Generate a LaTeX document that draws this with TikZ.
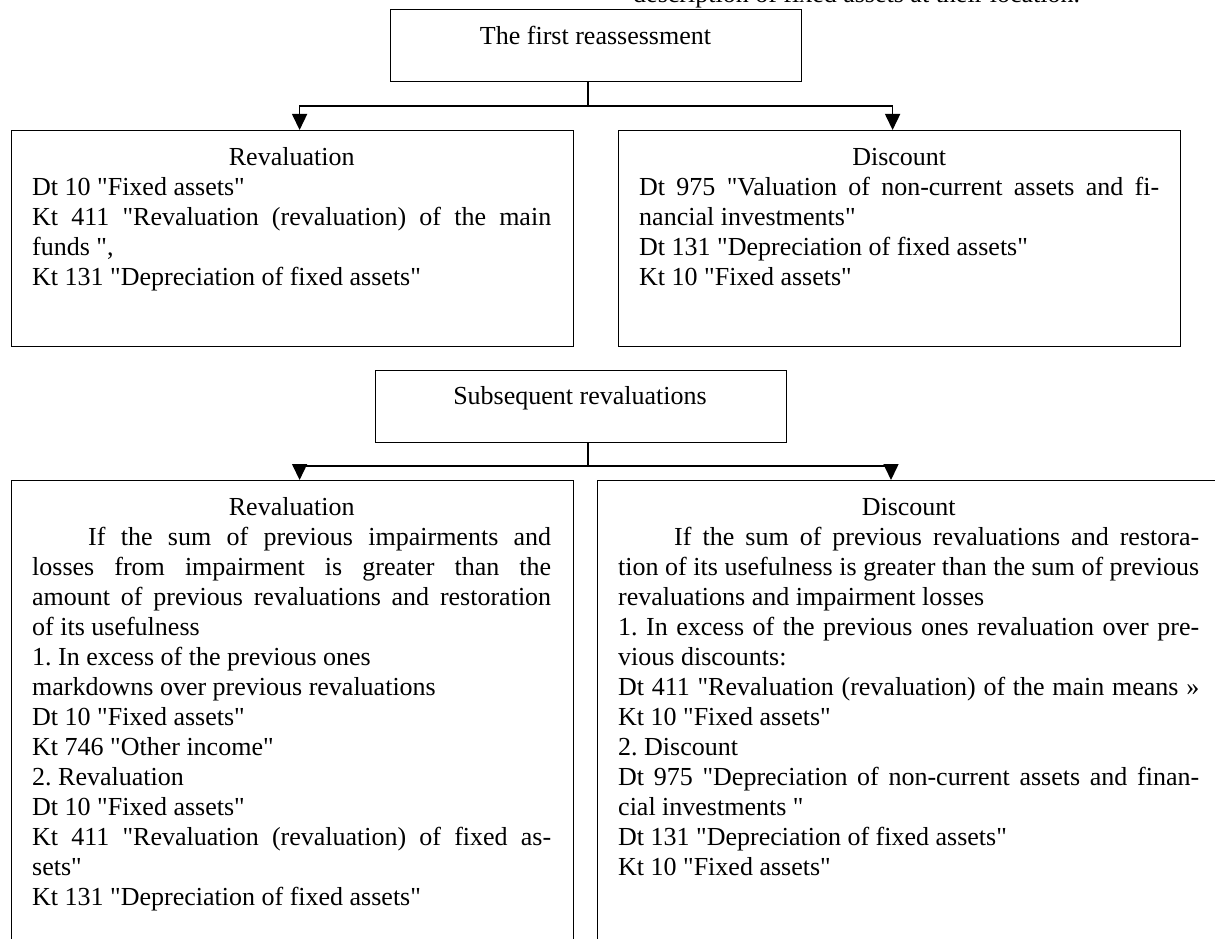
\documentclass[tikz,border=0pt]{standalone}
\usepackage{fontspec}
\setmainfont{Liberation Serif}[Ligatures=TeXOff]
\usetikzlibrary{arrows.meta}
\frenchspacing
\newcommand\bodyfont{\fontsize{26pt}{30pt}\selectfont\frenchspacing}
\newcommand\jline[2]{\makebox[#1][s]{#2}}
\newcommand\headline[2]{\makebox[#1]{\strut #2}}
\tikzset{
  frame/.style={draw, line width=1.2pt, inner sep=0pt, anchor=north west},
  txt/.style={inner sep=0pt, align=left, font=\bodyfont, anchor=north west},
  lbl/.style={inner sep=0pt, font=\bodyfont, anchor=base},
  conn/.style={line width=1.5pt},
  arr/.style={conn, -{Triangle[length=16pt,width=15pt]}},
}
\begin{document}
\begin{tikzpicture}[x=1pt,y=1pt]
\useasboundingbox (0,0) rectangle (1215,-939);
\clip (0,0) rectangle (1215,-939);

% partial caption at the top edge
\node[inner sep=0pt, font=\bodyfont, anchor=base west] (cap) at (633,-3)
  {description of fixed assets at their location.};

% frames
\node[frame, minimum width=411pt, minimum height=72pt] (first) at (390,-9) {};
\node[frame, minimum width=562pt, minimum height=216pt] (rv1) at (11,-130) {};
\node[frame, minimum width=562pt, minimum height=216pt] (dc1) at (618,-130) {};
\node[frame, minimum width=411pt, minimum height=72pt] (subs) at (375,-370) {};
\node[frame, minimum width=562pt, minimum height=490pt] (rv2) at (11,-480) {};
\node[frame, minimum width=650pt, minimum height=490pt] (dc2) at (597,-480) {};

% titles
\node[lbl] (tfirst) at (595.5,-45) {The first reassessment};
\node[lbl] (tsubs) at (580,-404) {Subsequent revaluations};

% top-left text
\node[txt] (t1) at (32,-144) {%
\headline{519pt}{Revaluation}\\
Dt 10 "Fixed assets"\\
\jline{519pt}{Kt 411 "Revaluation (revaluation) of the main}\\
funds ",\\
Kt 131 "Depreciation of fixed assets"};

% top-right text
\node[txt] (t2) at (639,-144) {%
\headline{520pt}{Discount}\\
\jline{520pt}{Dt 975 "Valuation of non-current assets and fi-}\\
nancial investments"\\
Dt 131 "Depreciation of fixed assets"\\
Kt 10 "Fixed assets"};

% bottom-left text
\node[txt] (t3) at (32,-494) {%
\headline{519pt}{Revaluation}\\
\jline{519pt}{\hspace*{56pt}If the sum of previous impairments and}\\
\jline{519pt}{losses from impairment is greater than the}\\
\jline{519pt}{amount of previous revaluations and restoration}\\
of its usefulness\\
1. In excess of the previous ones\\
markdowns over previous revaluations\\
Dt 10 "Fixed assets"\\
Kt 746 "Other income"\\
2. Revaluation\\
Dt 10 "Fixed assets"\\
\jline{519pt}{Kt 411 "Revaluation (revaluation) of fixed as-}\\
sets"\\
Kt 131 "Depreciation of fixed assets"};

% bottom-right text
\node[txt] (t4) at (618,-494) {%
\headline{581pt}{Discount}\\
\jline{581pt}{\hspace*{56pt}If the sum of previous revaluations and restora-}\\
\jline{581pt}{tion of its usefulness is greater than the sum of previous}\\
revaluations and impairment losses\\
\jline{581pt}{1. In excess of the previous ones revaluation over pre-}\\
vious discounts:\\
\jline{581pt}{Dt 411 "Revaluation (revaluation) of the main means »}\\
Kt 10 "Fixed assets"\\
2. Discount\\
\jline{581pt}{Dt 975 "Depreciation of non-current assets and finan-}\\
cial investments "\\
Dt 131 "Depreciation of fixed assets"\\
Kt 10 "Fixed assets"};

% connectors, first reassessment
\coordinate (j1) at (588,-106);
\draw[conn] (j1 |- first.south) -- (j1);
\draw[arr] (j1) -| ([xshift=7pt]rv1.north);
\draw[arr] (j1) -| ([xshift=-7pt]dc1.north);

% connectors, subsequent revaluations
\coordinate (j2) at (588,-466);
\draw[conn] (j2 |- subs.south) -- (j2);
\draw[arr] (j2) -| ([xshift=7pt]rv2.north);
\draw[arr] (j2) -| ([xshift=294pt]dc2.north west);
\end{tikzpicture}
\end{document}
